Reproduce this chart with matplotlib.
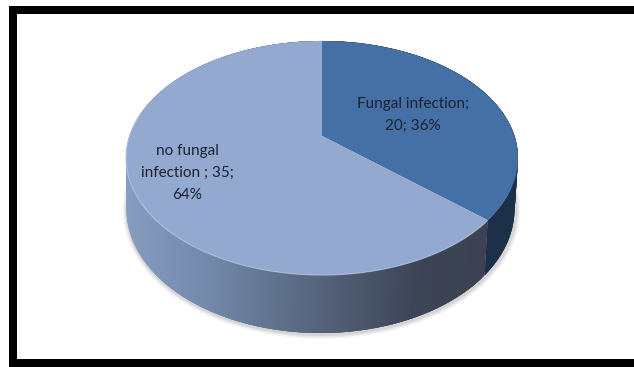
import numpy as np
import matplotlib.pyplot as plt
from matplotlib.collections import PolyCollection
from matplotlib.colors import LinearSegmentedColormap
from matplotlib.patches import Rectangle

labels = ["Fungal infection", "no fungal\ninfection "]
values = [20, 35]
top_colors = ["#4470a5", "#93a9cf"]

plt.rcParams["font.family"] = ["Lato", "DejaVu Sans"]

# pixel coordinates for the whole figure
fig = plt.figure(figsize=(6.34, 3.67), dpi=100)
ax = fig.add_axes([0, 0, 1, 1])
ax.set_xlim(0, 634)
ax.set_ylim(367, 0)
ax.axis("off")

# black frame, open on the right
ax.add_patch(Rectangle((9, 6), 625, 8, color="black", lw=0))
ax.add_patch(Rectangle((9, 6), 8, 361, color="black", lw=0))
ax.add_patch(Rectangle((9, 359), 625, 8, color="black", lw=0))

# perspective projection of the disc
cx, cy = 322, 136
a, b, c = 192.5, 112.9, 0.188


def project(theta):
    u = np.sin(theta)
    v = np.cos(theta)
    w = 1 + c * v
    return cx + a * u / w, cy - b * v / w


def lower_edge(theta):
    x, y = project(theta)
    depth = 49 - 9 * np.cos(theta)
    return 320.5 + (x - cx) * 0.99, y + depth


shares = np.array(values) / sum(values)
edges = np.concatenate([[0], np.cumsum(shares)]) * 2 * np.pi

# soft shadow under the rim
th = np.linspace(-0.35, np.pi + 0.35, 300) + np.pi / 2
sx, sy = lower_edge(th)
for lw, alpha in [(7, 0.06), (5, 0.08), (3, 0.12)]:
    ax.plot(sx + 1, sy + 1, color="#555555", lw=lw, alpha=alpha, zorder=1)

# rim, shaded from left to right
rim_light = LinearSegmentedColormap.from_list(
    "rim_light",
    [(0, "#869dc0"), (0.2, "#7489ac"), (0.5, "#55637b"), (0.75, "#3d4455"), (1, "#3b4150")],
)
rim_dark = LinearSegmentedColormap.from_list("rim_dark", ["#1a2c45", "#1c3049"])
rim_maps = [rim_dark, rim_light]

for i in range(len(values)):
    th = np.linspace(edges[i], edges[i + 1], int(shares[i] * 500) + 2)
    x0, y0 = project(th)
    x1, y1 = lower_edge(th)
    # overlap neighbouring strips so no seams show
    quads = []
    for j in range(len(th) - 1):
        k = min(j + 3, len(th) - 1)
        quads.append([(x0[j], y0[j]), (x0[k], y0[k]), (x1[k], y1[k]), (x1[j], y1[j])])
    mid = (x0[:-1] + x0[1:]) / 2
    shade = rim_maps[i]((mid - 127) / (517 - 127))
    ax.add_collection(PolyCollection(quads, facecolors=shade, edgecolors="none", zorder=2))

# top face
for i in range(len(values)):
    th = np.linspace(edges[i], edges[i + 1], 300)
    x, y = project(th)
    ax.fill(np.r_[cx, x], np.r_[cy, y], color=top_colors[i], lw=0, zorder=3)

# thin highlight along the front of the top face
th = np.linspace(edges[1] + 0.02, 4.9, 200)
x, y = project(th)
ax.plot(x, y, color="#b4c5e0", lw=0.8, alpha=0.8, zorder=4)

text_xy = [(413, 115), (187, 173)]
for i in range(len(values)):
    pct = round(shares[i] * 100)
    if i == 0:
        txt = f"{labels[i]};\n{values[i]}; {pct}%"
    else:
        txt = f"{labels[i]}; {values[i]};\n{pct}%"
    ax.text(text_xy[i][0], text_xy[i][1], txt, ha="center", va="center",
            fontsize=11, color="#1a2230", linespacing=1.72, zorder=5)

fig.savefig("out.png", dpi=100)
